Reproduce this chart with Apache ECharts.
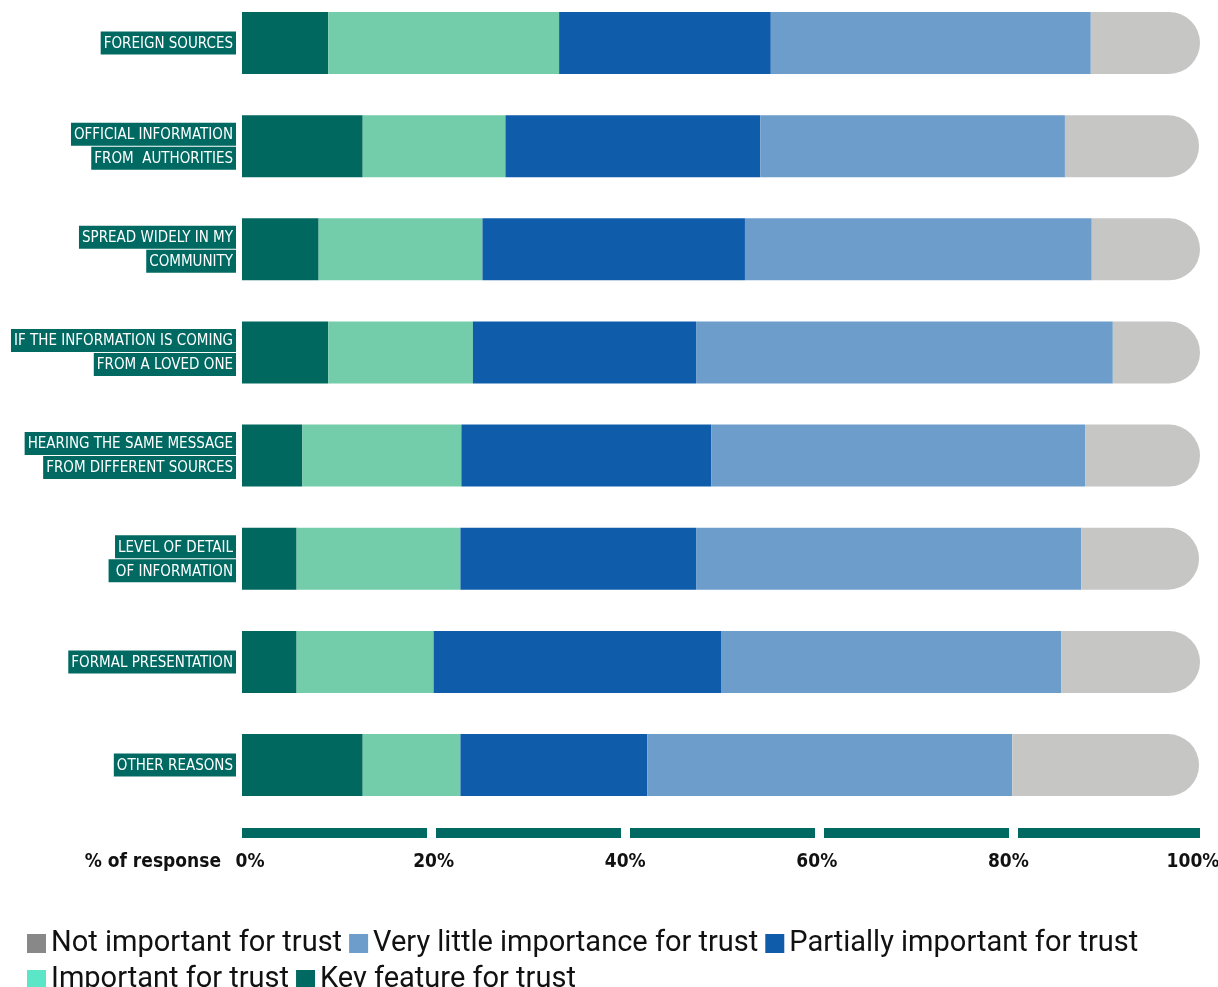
<!DOCTYPE html>
<html>
<head>
<meta charset="utf-8">
<title>Trust factors</title>
<script src="https://cdn.jsdelivr.net/npm/echarts@6/dist/echarts.min.js"></script>
<style>
  html, body { margin: 0; padding: 0; background: #ffffff; }
  #chart { width: 1218px; height: 987px; }
</style>
</head>
<body>
<div id="chart"></div>
<script>
// Reasons respondents give for trusting a piece of information (top to bottom)
const categories = [
  'FOREIGN SOURCES',
  'OFFICIAL INFORMATION\nFROM  AUTHORITIES',
  'SPREAD WIDELY IN MY\nCOMMUNITY',
  'IF THE INFORMATION IS COMING\nFROM A LOVED ONE',
  'HEARING THE SAME MESSAGE\nFROM DIFFERENT SOURCES',
  'LEVEL OF DETAIL\n OF INFORMATION',
  'FORMAL PRESENTATION',
  'OTHER REASONS'
];

// Share of responses (%) per answer, same order as categories
const keyFeature        = [9.0, 12.6, 8.0, 9.0, 6.3, 5.7, 5.7, 12.6];
const important         = [24.1, 14.9, 17.1, 15.1, 16.6, 17.1, 14.3, 10.2];
const partiallyImport   = [22.1, 26.6, 27.4, 23.3, 26.1, 24.6, 30.0, 19.5];
const veryLittle        = [33.4, 31.8, 36.2, 43.5, 39.0, 40.2, 35.5, 38.1];
const notImportant      = [11.4, 14.0, 11.3, 9.1, 12.0, 12.3, 14.5, 19.5];

const xTicks = [0, 20, 40, 60, 80, 100];

const seriesNames = [
  'Key feature for trust',
  'Important for trust',
  'Partially important for trust',
  'Very little importance for trust',
  'Not important for trust'
];
const seriesData = [keyFeature, important, partiallyImport, veryLittle, notImportant];
const barColors = ['#00685f', '#74cdaa', '#0f5cab', '#6c9dcb', '#c6c6c5'];
const legendColors = ['#006a62', '#5ce6c8', '#0f5cab', '#6c9dcb', '#888888'];

const TEAL = '#006a62';
const condensed = "'DejaVu Sans Condensed', 'Liberation Sans Narrow', sans-serif";

const chart = echarts.init(document.getElementById('chart'), null, { renderer: 'canvas' });

const series = seriesNames.map((name, i) => ({
  name: name,
  type: 'bar',
  stack: 'total',
  barWidth: 62,
  data: seriesData[i],
  itemStyle: {
    color: barColors[i],
    borderRadius: i === seriesNames.length - 1 ? [0, 31, 31, 0] : 0
  },
  emphasis: { disabled: true }
}));

const tickStyle = { fontFamily: condensed, fontWeight: 'bold', fontSize: 19, color: '#111111' };

chart.setOption({
  animation: false,
  backgroundColor: '#ffffff',
  grid: {
    left: 242,
    right: 18,
    top: -8.6,
    bottom: 170.4,
    outerBoundsMode: 'none',
    containLabel: false
  },
  legend: {
    left: 22,
    right: 4,
    top: 924,
    icon: 'rect',
    itemWidth: 19,
    itemHeight: 19,
    itemGap: 7,
    textStyle: {
      fontFamily: "Roboto, 'Noto Sans', sans-serif",
      fontSize: 29,
      color: '#111111',
      lineHeight: 21
    },
    data: [4, 3, 2, 1, 0].map(i => ({
      name: seriesNames[i],
      itemStyle: { color: legendColors[i] }
    }))
  },
  xAxis: {
    type: 'value',
    min: 0,
    max: 100,
    interval: 20,
    offset: 16,
    splitLine: { show: false },
    axisTick: { show: false },
    axisLine: {
      show: true,
      lineStyle: { color: TEAL, width: 10, type: [185, 9], cap: 'butt' }
    },
    axisLabel: Object.assign({
      margin: 20,
      formatter: function (v) {
        if (v === xTicks[0]) return '{first|' + v + '%}';
        if (v === xTicks[xTicks.length - 1]) return '{last|' + v + '%}';
        return v + '%';
      },
      rich: {
        first: Object.assign({ padding: [0, 0, 0, 16] }, tickStyle),
        last: Object.assign({ padding: [0, 14, 0, 0] }, tickStyle)
      }
    }, tickStyle),
    name: '% of response',
    nameLocation: 'start',
    nameGap: 21,
    nameTextStyle: Object.assign({
      align: 'right',
      verticalAlign: 'top',
      padding: [20, 0, 0, 0]
    }, tickStyle)
  },
  yAxis: {
    type: 'category',
    inverse: true,
    data: categories,
    axisLine: { show: false },
    axisTick: { show: false },
    splitLine: { show: false },
    axisLabel: {
      margin: 6,
      align: 'right',
      formatter: function (v) {
        return v.split('\n').map(line => '{tag|' + line + '}').join('\n');
      },
      rich: {
        tag: {
          fontFamily: condensed,
          fontSize: 15,
          color: '#ffffff',
          backgroundColor: TEAL,
          lineHeight: 24,
          padding: [5, 3, 3, 3]
        }
      }
    }
  },
  series: series
});
</script>
</body>
</html>
